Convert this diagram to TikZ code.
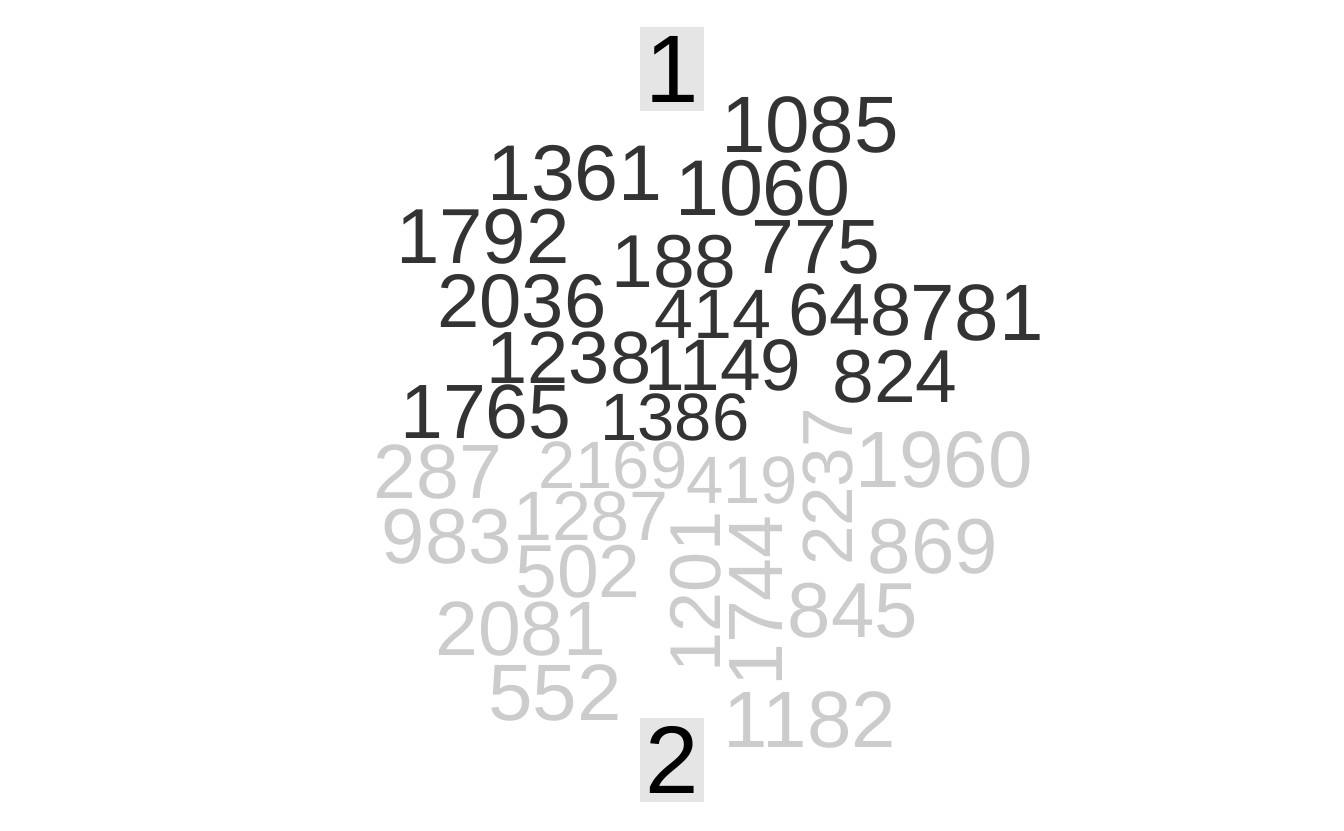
\documentclass[tikz,border=0pt]{standalone}
\usepackage{fontspec}
\setmainfont{Liberation Sans}
\definecolor{groupone}{HTML}{333333}
\definecolor{grouptwo}{HTML}{CCCCCC}
\definecolor{stripgrey}{HTML}{E5E5E5}
\begin{document}
\begin{tikzpicture}[x=1pt,y=-1pt,
  every node/.style={inner sep=0pt,anchor=base},
  sz/.style={font=\fontsize{#1}{#1}\selectfont},
  one/.style={text=groupone},
  two/.style={text=grouptwo},
  strip/.style={fill=stripgrey,anchor=center,minimum width=64pt,minimum height=84pt,text=black,font=\fontsize{96}{96}\selectfont}]
\useasboundingbox[fill=white] (0,0) rectangle (1344,830);
% panel strips
\node[strip] (strip1) at (672,69) {1};
\node[strip] (strip2) at (672,760) {2};
% group 1
\node[one,sz=80] (word1085) at (810,152) {1085};
\node[one,sz=79] (word1361) at (575,200) {1361};
\node[one,sz=79] (word1060) at (763,215) {1060};
\node[one,sz=78] (word1792) at (483,263) {1792};
\node[one,sz=75] (word188) at (674,287) {188};
\node[one,sz=77] (word775) at (816,273) {775};
\node[one,sz=76] (word2036) at (522,327) {2036};
\node[one,sz=70] (word414) at (713,338) {414};
\node[one,sz=74] (word648) at (850,335) {648};
\node[one,sz=80] (word781) at (977,340) {781};
\node[one,sz=74] (word1238) at (569,383) {1238};
\node[one,sz=73] (word1149) at (723,390) {1149};
\node[one,sz=75] (word824) at (895,402) {824};
\node[one,sz=77] (word1765) at (486,438) {1765};
\node[one,sz=67] (word1386) at (675,440) {1386};
% group 2
\node[two,sz=77] (word287) at (438,498) {287};
\node[two,sz=67] (word2169) at (613,488) {2169};
\node[two,sz=67] (word419) at (742,503) {419};
\node[two,sz=71,rotate=90] (word2237) at (852,487) {2237};
\node[two,sz=80] (word1960) at (944,487) {1960};
\node[two,sz=78] (word983) at (447,563) {983};
\node[two,sz=70] (word1287) at (591,540) {1287};
\node[two,sz=75] (word502) at (578,597) {502};
\node[two,sz=78] (word869) at (933,573) {869};
\node[two,sz=72,rotate=90] (word1201) at (720,592) {1201};
\node[two,sz=77,rotate=90] (word1744) at (782,601) {1744};
\node[two,sz=78] (word845) at (853,637) {845};
\node[two,sz=77] (word2081) at (521,655) {2081};
\node[two,sz=80] (word552) at (555,720) {552};
\node[two,sz=80] (word1182) at (810,747) {1182};
\end{tikzpicture}
\end{document}
